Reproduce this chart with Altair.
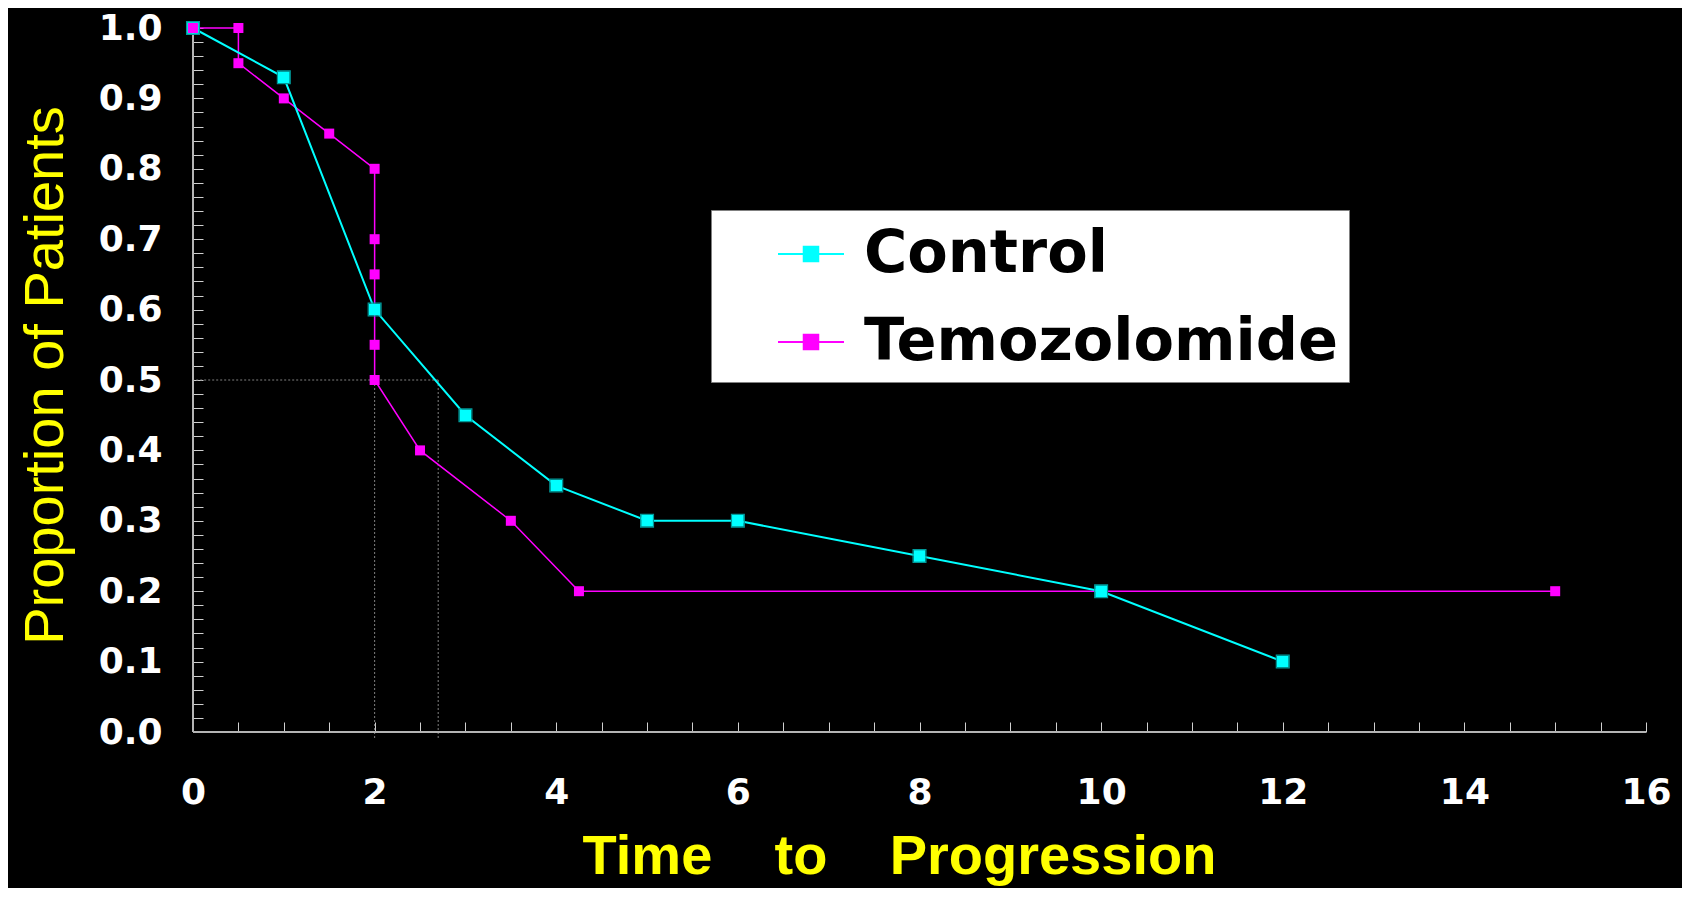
import altair as alt
import pandas as pd

# ---- data ----
control_t = [0, 1, 2, 3, 4, 5, 6, 8, 10, 12]
control_p = [1.0, 0.93, 0.60, 0.45, 0.35, 0.30, 0.30, 0.25, 0.20, 0.10]
temo_t = [0, 0.5, 0.5, 1.0, 1.5, 2, 2, 2, 2, 2, 2.5, 3.5, 4.25, 15]
temo_p = [1.0, 1.0, 0.95, 0.90, 0.85, 0.80, 0.70, 0.65, 0.55, 0.50, 0.40, 0.30, 0.20, 0.20]
series_names = ["Control", "Temozolomide"]
series_colors = ["#00ffff", "#ff00ff"]
median_x = [2.0, 2.7]
median_p = 0.5
x_ticks = [i * 0.5 for i in range(33)]
y_ticks = [round(i * 0.02, 2) for i in range(51)]
x_title = "Time\u00a0\u00a0\u00a0\u00a0to\u00a0\u00a0\u00a0\u00a0Progression"
y_title = "Proportion of Patients"

rows = []
for i, (t, p) in enumerate(zip(control_t, control_p)):
    rows.append({"t": t, "p": p, "series": series_names[0], "idx": i})
for i, (t, p) in enumerate(zip(temo_t, temo_p)):
    rows.append({"t": t, "p": p, "series": series_names[1], "idx": i})
df = pd.DataFrame(rows)
med_df = pd.DataFrame({"t": median_x, "p": [median_p] * len(median_x)})
one = pd.DataFrame({"a": [0]})

W, H = 1453, 704
xscale = alt.Scale(domain=[0, 16], nice=False, zero=False)
yscale = alt.Scale(domain=[0, 1], nice=False, zero=False)
cscale = alt.Scale(domain=series_names, range=series_colors)

legend_path = "M-1,0H1M-0.22,-0.22H0.22V0.22H-0.22Z"
legend = alt.Legend(
    orient="none", legendX=518, legendY=182, title=None,
    fillColor="white", strokeColor="#808080", padding=10,
    labelFont="DejaVu Sans", labelFontWeight="bold", labelFontSize=59,
    labelColor="black", labelLimit=800, symbolType=legend_path, symbolSize=4356,
    symbolStrokeWidth=2, symbolOffset=56, labelOffset=19, rowPadding=24,
)

xaxis = alt.Axis(
    values=x_ticks, tickCount=200,
    labelExpr="datum.value % 2 == 0 ? format(datum.value, 'd') : ''",
    offset=-10, tickSize=10, tickColor="#d0d0d0", tickWidth=1, domain=False, grid=False,
    labelFont="DejaVu Sans", labelFontWeight="bold", labelFontSize=36, labelColor="white",
    labelPadding=43, labelBaseline="top", labelOverlap=False, labelFlush=False,
    title=x_title, titleFont="Liberation Sans", titleFontWeight="bold", titleFontSize=56,
    titleColor="#ffff00", titleX=706, titleY=151, titleBaseline="alphabetic", titleAlign="center",
)
yaxis = alt.Axis(
    values=y_ticks, tickCount=200,
    labelExpr="abs(datum.value*10 - round(datum.value*10)) < 0.001 ? format(datum.value, '.1f') : ''",
    offset=-10, tickSize=10, tickColor="#d0d0d0", tickWidth=1, domain=False, grid=False,
    labelFont="DejaVu Sans", labelFontWeight="bold", labelFontSize=36, labelColor="white",
    labelPadding=31, labelBaseline="middle", labelOverlap=False, labelFlush=False,
    title=y_title, titleFont="Liberation Sans", titleFontWeight="normal", titleFontSize=56,
    titleColor="#ffff00", titleAngle=270, titleX=-141, titleY=347,
    titleBaseline="alphabetic", titleAlign="center",
)

base = alt.Chart(df)
is_c = alt.datum.series == series_names[0]
is_t = alt.datum.series == series_names[1]

# median reference lines
med_h = alt.Chart(med_df).transform_filter(alt.datum.t == max(median_x)).mark_rule(
    color="#808080", strokeDash=[2, 2], strokeWidth=1
).encode(x=alt.X("t:Q", scale=xscale, axis=xaxis), x2=alt.datum(0),
         y=alt.Y("p:Q", scale=yscale, axis=yaxis))
med_v = alt.Chart(med_df).mark_rule(
    color="#808080", strokeDash=[2, 2], strokeWidth=1, y2Offset=8
).encode(x="t:Q", y="p:Q", y2=alt.datum(0))

# axis lines
xline = alt.Chart(one).mark_rule(color="#b4b4b4", strokeWidth=2).encode(
    x=alt.datum(0), x2=alt.datum(16), y=alt.datum(0))
yline = alt.Chart(one).mark_rule(color="#b4b4b4", strokeWidth=2).encode(
    x=alt.datum(0), y=alt.datum(0), y2=alt.datum(1))

line_c = base.transform_filter(is_c).mark_line(strokeWidth=2).encode(
    x="t:Q", y="p:Q", stroke=alt.Stroke("series:N", scale=cscale, legend=legend), order="idx:Q")
line_t = base.transform_filter(is_t).mark_line(strokeWidth=1.5).encode(
    x="t:Q", y="p:Q", stroke=alt.Stroke("series:N", scale=cscale, legend=legend), order="idx:Q")

pts_c = base.transform_filter(is_c).mark_point(shape="square", filled=True, opacity=1, size=140).encode(
    x="t:Q", y="p:Q", fill=alt.Fill("series:N", scale=cscale, legend=legend))
pts_c_edge = base.transform_filter(is_c).mark_point(
    shape="square", filled=False, opacity=1, size=165, stroke="#009a9a", strokeWidth=1.2
).encode(x="t:Q", y="p:Q")
pts_t = base.transform_filter(is_t).mark_point(shape="square", filled=True, opacity=1, size=100).encode(
    x="t:Q", y="p:Q", fill=alt.Fill("series:N", scale=cscale, legend=legend))

chart = alt.layer(med_h, med_v, xline, yline, line_t, line_c, pts_c, pts_c_edge, pts_t).properties(
    width=W, height=H,
    autosize=alt.AutoSizeParams(type="none"),
    padding={"left": 185, "top": 20, "right": 36, "bottom": 156},
).configure(background="black").configure_view(stroke=None)

chart.save("out.html", embed_options={"renderer": "svg", "actions": False})
